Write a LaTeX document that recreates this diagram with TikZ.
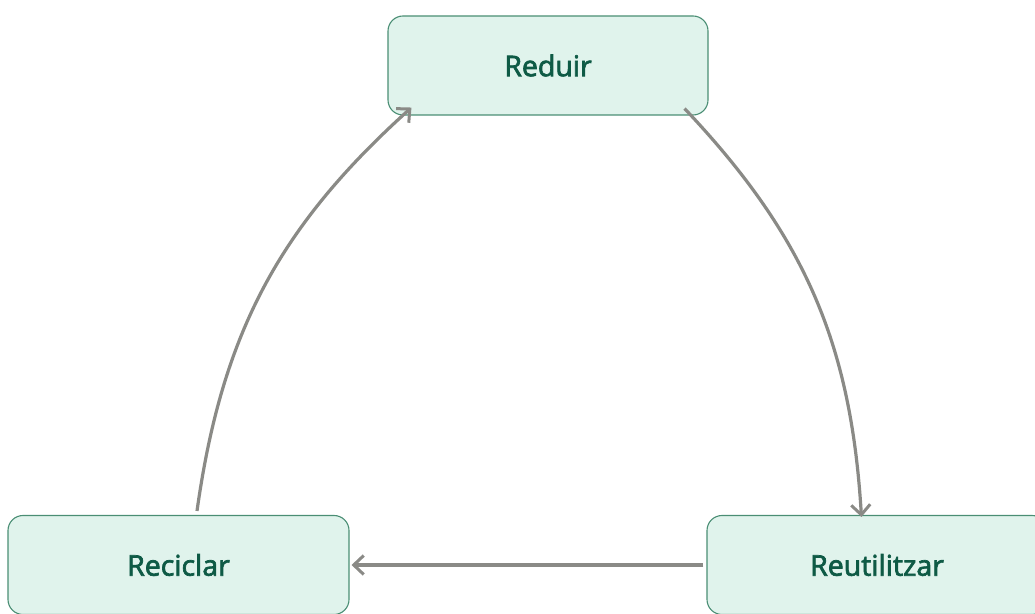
\documentclass[tikz,border=0pt]{standalone}
\usepackage{fontspec}
\setmainfont{Open Sans}
\newfontfamily\stagefont{Open Sans}[FakeBold=2.4]
\usetikzlibrary{arrows.meta}
\definecolor{boxfill}{HTML}{E0F3EC}
\definecolor{boxline}{HTML}{4A8E74}
\definecolor{boxtext}{HTML}{0E5A45}
\definecolor{flowgray}{HTML}{8A8A86}
\begin{document}
\begin{tikzpicture}[x=1pt, y=1pt,
    stage/.style={draw=boxline, line width=1.1pt, fill=boxfill, rounded corners=15pt,
        text=boxtext, font=\stagefont\fontsize{28.5}{33}\selectfont,
        inner sep=0pt, minimum height=99pt},
    flow/.style={draw=flowgray, line width=3.2pt, -{Straight Barb[length=10pt, width=19pt, line width=3pt]}}]
        % marges
        \useasboundingbox (0,0) rectangle (1035,613);

        % les tres etapes
        \node[stage, minimum width=320pt] (reduir) at (548,547.5) {Reduir};
        \node[stage, minimum width=341pt] (reciclar) at (178.5,48) {Reciclar};
        \node[stage, minimum width=340pt] (reutilitzar) at (877,48) {Reutilitzar};

        % fletxes del cicle
        \draw[flow] ([shift={(-24,7)}]reduir.south east) to[bend left=20] ([shift={(155,-2)}]reutilitzar.north west);
        \draw[flow] ([shift={(-3,0)}]reutilitzar.west) -- ([shift={(2,0)}]reciclar.east);
        \draw[flow] ([shift={(18.5,4)}]reciclar.north) to[bend left=20] ([shift={(24,8)}]reduir.south west);
    \end{tikzpicture}
\end{document}
